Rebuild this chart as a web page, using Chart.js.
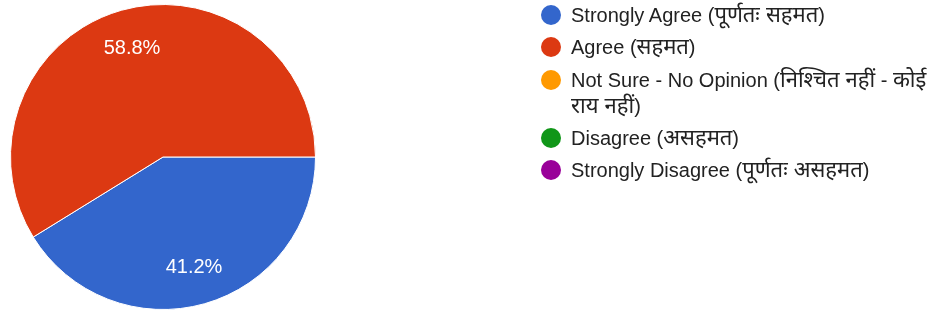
<!DOCTYPE html>
<html>
<head>
<meta charset="utf-8">
<script src="https://cdn.jsdelivr.net/npm/chart.js@4/dist/chart.umd.min.js"></script>
<style>
  html, body { margin: 0; padding: 0; background: #fff; }
  #wrap { position: relative; width: 929px; height: 311px; overflow: hidden; }
  #c { position: absolute; left: 0; top: 0; }
  #legend { position: absolute; left: 541px; top: 2px; width: 388px;
    font-family: "Liberation Sans", Arial, "Noto Sans", sans-serif; font-size: 20px; color: #222; }
  .item { display: flex; align-items: flex-start; margin-bottom: 6.3px; }
  .dot { width: 20px; height: 20px; border-radius: 50%; flex: 0 0 20px; margin-top: 3px; margin-right: 10px; }
  .txt { line-height: 26px; width: 358px; }
  .dev { font-size: 22px; line-height: 20px; }
</style>
</head>
<body>
<div id="wrap">
  <canvas id="c" width="929" height="311"></canvas>
  <div id="legend"></div>
</div>
<script>
const categories = [
  "Strongly Agree (पूर्णतः सहमत)",
  "Agree (सहमत)",
  "Not Sure - No Opinion (निश्चित नहीं - कोई राय नहीं)",
  "Disagree (असहमत)",
  "Strongly Disagree (पूर्णतः असहमत)"
];
const values = [41.2, 58.8, 0, 0, 0];
const sliceColors = ["#3366CC", "#DC3912", "#FF9900", "#109618", "#990099"];

const pctLabels = {
  id: 'pctLabels',
  afterDatasetsDraw(chart) {
    const ctx = chart.ctx;
    const meta = chart.getDatasetMeta(0);
    const data = chart.data.datasets[0].data;
    const total = data.reduce((a, b) => a + b, 0);
    ctx.save();
    ctx.fillStyle = '#ffffff';
    ctx.font = '20px "Liberation Sans", Arial, sans-serif';
    ctx.textAlign = 'center';
    ctx.textBaseline = 'middle';
    meta.data.forEach((arc, i) => {
      const v = data[i];
      if (!v) return;
      const p = arc.getProps(['x', 'y', 'startAngle', 'endAngle', 'outerRadius'], true);
      const mid = (p.startAngle + p.endAngle) / 2;
      const r = p.outerRadius * 0.745;
      const pct = (v / total * 100).toFixed(1) + '%';
      ctx.fillText(pct, p.x + Math.cos(mid) * r, p.y + Math.sin(mid) * r + 1);
    });
    ctx.restore();
  }
};

const chart = new Chart(document.getElementById('c'), {
  type: 'pie',
  data: {
    labels: categories,
    datasets: [{
      data: values,
      backgroundColor: sliceColors,
      borderColor: '#ffffff',
      borderWidth: 1
    }]
  },
  options: {
    responsive: false,
    animation: false,
    rotation: 90,
    layout: { padding: { left: 10, right: 613, top: 4, bottom: 1 } },
    plugins: {
      legend: { display: false },
      tooltip: { enabled: false }
    }
  },
  plugins: [pctLabels]
});

const legendEl = document.getElementById('legend');
const devRe = /([\u0900-\u097F]+(?:\s+[\u0900-\u097F]+)*)/g;
chart.data.labels.forEach((lab, i) => {
  const item = document.createElement('div');
  item.className = 'item';
  const dot = document.createElement('span');
  dot.className = 'dot';
  dot.style.background = chart.data.datasets[0].backgroundColor[i];
  const txt = document.createElement('span');
  txt.className = 'txt';
  lab.split(devRe).forEach((part, k) => {
    if (!part) return;
    if (k % 2 === 1) {
      const s = document.createElement('span');
      s.className = 'dev';
      s.textContent = part;
      txt.appendChild(s);
    } else {
      txt.appendChild(document.createTextNode(part));
    }
  });
  item.appendChild(dot);
  item.appendChild(txt);
  legendEl.appendChild(item);
});
</script>
</body>
</html>
